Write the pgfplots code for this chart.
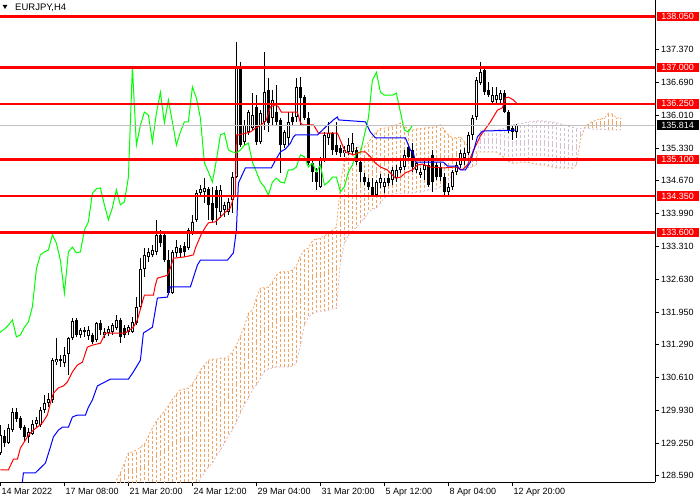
\documentclass[border=0pt]{standalone}
\usepackage{fontspec}
\setmainfont{Liberation Sans}
\usepackage{pgfplots}
\pgfplotsset{compat=1.18}
\usepackage{pgfplotstable}
\definecolor{sandy}{RGB}{244,164,96}
\definecolor{thist}{RGB}{216,191,216}
\definecolor{silv}{RGB}{192,192,192}
\definecolor{lime}{RGB}{0,255,0}
\definecolor{mtblue}{RGB}{0,0,255}
\definecolor{mtred}{RGB}{255,0,0}

\pgfplotstableread{
i o h l c
0 129.06 129.63 129.02 129.43
1 129.41 129.53 129.18 129.26
2 129.26 129.66 129.24 129.57
3 129.53 129.98 129.49 129.90
4 129.90 129.98 129.70 129.76
5 129.78 129.82 129.53 129.57
6 129.59 129.63 129.28 129.39
7 129.39 129.57 129.26 129.49
8 129.45 129.74 129.43 129.66
9 129.66 129.80 129.59 129.74
10 129.63 130.00 129.59 129.94
11 129.94 130.25 129.88 130.09
12 130.09 130.29 130.00 130.17
13 130.15 131.02 130.09 130.97
14 130.93 131.43 130.87 130.99
15 130.99 131.08 130.83 130.95
16 130.91 131.24 130.83 131.08
17 131.10 131.45 130.66 131.43
18 131.43 131.84 131.39 131.78
19 131.80 131.84 131.45 131.49
20 131.49 131.63 131.43 131.59
21 131.59 131.65 131.45 131.55
22 131.47 131.67 131.39 131.59
23 131.49 131.53 131.31 131.35
24 131.39 131.76 131.35 131.74
25 131.74 131.80 131.49 131.59
26 131.49 131.63 131.43 131.55
27 131.53 131.67 131.47 131.61
28 131.55 131.74 131.49 131.69
29 131.63 131.90 131.59 131.80
30 131.80 131.84 131.32 131.45
31 131.63 131.69 131.43 131.49
32 131.55 131.69 131.49 131.65
33 131.55 131.86 131.53 131.76
34 131.74 132.27 131.69 132.07
35 132.07 133.07 132.05 132.85
36 132.85 133.28 132.68 133.14
37 133.10 133.28 132.99 133.20
38 133.14 133.34 133.10 133.24
39 133.20 133.86 133.14 133.55
40 133.55 133.65 133.30 133.38
41 133.55 133.61 132.99 133.03
42 133.03 133.24 132.32 132.35
43 132.35 133.24 132.33 133.20
44 133.18 133.45 133.10 133.30
45 133.28 133.34 133.10 133.18
46 133.32 133.40 133.10 133.20
47 133.28 133.69 133.24 133.65
48 133.61 133.96 133.55 133.82
49 133.86 134.48 133.82 134.41
50 134.41 134.58 134.37 134.50
51 134.44 134.72 134.21 134.52
52 134.50 134.54 133.86 134.17
53 134.21 134.54 133.82 133.86
54 134.48 134.56 133.75 134.11
55 134.02 134.58 133.90 134.48
56 134.06 134.23 133.92 134.17
57 134.02 134.31 133.96 134.23
58 134.27 134.85 134.00 134.74
59 134.74 137.52 134.72 137.01
60 137.01 137.11 135.36 135.40
61 135.46 135.92 135.40 135.81
62 135.67 136.12 135.61 136.08
63 135.75 136.47 135.69 136.02
64 136.19 136.43 135.40 135.46
65 135.47 136.12 135.42 136.06
66 135.88 137.32 135.71 136.49
67 136.54 136.78 135.67 135.86
68 135.96 136.54 135.81 136.33
69 136.08 136.64 135.81 135.88
70 135.92 135.96 134.83 135.40
71 135.40 135.71 135.34 135.67
72 135.55 136.08 135.40 135.88
73 135.98 136.08 135.81 135.88
74 135.98 136.78 135.88 136.60
75 136.60 136.80 135.81 136.37
76 136.39 136.43 135.92 135.96
77 135.96 136.08 134.99 135.03
78 135.03 135.09 134.64 134.85
79 134.85 134.93 134.48 134.64
80 134.54 135.16 134.52 135.09
81 135.09 135.67 135.05 135.61
82 135.55 135.88 135.40 135.65
83 135.65 135.67 135.20 135.30
84 135.40 135.88 135.20 135.26
85 135.34 135.40 135.16 135.24
86 135.24 135.38 135.16 135.30
87 135.26 135.55 135.20 135.40
88 135.26 135.65 135.20 135.44
89 135.30 135.36 134.99 135.05
90 135.05 135.09 134.64 134.85
91 134.74 134.83 134.58 134.64
92 134.64 134.72 134.48 134.54
93 134.54 134.72 134.33 134.37
94 134.37 134.68 134.33 134.64
95 134.62 134.80 134.52 134.72
96 134.54 134.72 134.42 134.64
97 134.72 134.80 134.56 134.62
98 134.68 134.95 134.58 134.89
99 134.72 134.99 134.64 134.89
100 134.89 135.09 134.83 134.95
101 134.95 135.30 134.89 135.20
102 135.36 135.40 135.09 135.16
103 135.30 135.44 134.85 134.95
104 134.89 135.05 134.83 135.03
105 134.79 134.93 134.72 134.85
106 134.89 135.14 134.68 134.99
107 134.99 135.09 134.54 134.58
108 135.20 135.30 134.44 134.64
109 134.99 135.05 134.68 134.74
110 134.95 135.03 134.66 134.74
111 134.74 134.83 134.37 134.44
112 134.44 134.62 134.33 134.54
113 134.54 134.89 134.48 134.85
114 134.85 135.05 134.79 134.99
115 134.99 135.30 134.93 135.24
116 135.14 135.34 134.99 135.24
117 135.24 135.67 135.20 135.61
118 135.61 136.02 135.51 135.96
119 135.98 136.80 135.92 136.74
120 136.68 137.11 136.64 136.90
121 136.95 136.99 136.43 136.49
122 136.54 136.70 136.39 136.43
123 136.29 136.60 136.27 136.43
124 136.33 136.60 136.27 136.43
125 136.33 136.54 136.27 136.47
126 136.47 136.54 136.06 136.08
127 136.08 136.12 135.65 135.71
128 135.75 135.81 135.51 135.67
129 135.67 135.83 135.55 135.81
}\candles

\pgfplotstableread{
i A B
29 128.50 128.30
30 128.65 128.30
31 128.85 128.30
32 129.06 128.30
33 129.08 128.30
34 129.12 128.30
35 129.18 128.30
36 129.24 128.30
37 129.41 128.30
38 129.57 128.30
39 129.72 128.30
40 129.82 128.30
41 129.92 128.30
42 130.03 128.30
43 130.17 128.30
44 130.27 128.30
45 130.36 128.30
46 130.38 128.30
47 130.40 128.30
48 130.48 128.30
49 130.62 128.30
50 130.77 128.54
51 130.87 128.65
52 130.97 128.77
53 130.99 128.85
54 130.99 129.00
55 131.01 129.12
56 131.01 129.26
57 131.04 129.41
58 131.14 129.53
59 131.28 129.70
60 131.47 129.88
61 131.67 130.05
62 131.94 130.19
63 132.00 130.36
64 132.25 130.46
65 132.46 130.60
66 132.46 130.73
67 132.48 130.79
68 132.58 130.81
69 132.72 130.83
70 132.79 130.83
71 132.79 130.83
72 132.79 130.83
73 132.83 130.85
74 132.91 130.91
75 133.12 131.28
76 133.24 131.70
77 133.28 131.86
78 133.43 131.92
79 133.47 131.96
80 133.49 131.98
81 133.53 131.98
82 133.57 132.00
83 133.65 132.02
84 133.71 132.04
85 134.58 132.99
86 135.09 133.38
87 135.20 133.55
88 135.30 133.63
89 135.36 133.71
90 135.34 133.80
91 135.36 133.90
92 135.46 134.02
93 135.57 134.08
94 135.67 134.11
95 135.75 134.21
96 135.75 134.31
97 135.77 134.37
98 135.79 134.39
99 135.82 134.41
100 135.86 134.41
101 135.79 134.41
102 135.73 134.41
103 135.71 134.41
104 135.73 134.43
105 135.75 134.43
106 135.75 134.46
107 135.77 134.48
108 135.77 134.48
109 135.79 134.50
110 135.82 134.54
111 135.71 134.58
112 135.61 134.68
113 135.55 134.79
114 135.55 134.89
115 135.57 134.93
116 135.47 134.93
117 135.38 134.93
118 135.30 134.95
119 135.26 134.99
120 135.26 135.71
121 135.26 135.71
122 135.26 135.71
123 135.26 135.71
124 135.26 135.71
125 135.20 135.73
126 135.14 135.75
127 135.07 135.79
128 135.03 135.82
129 135.03 135.84
130 135.05 135.84
131 135.05 135.86
132 135.05 135.88
133 135.03 135.88
134 135.01 135.90
135 134.99 135.90
136 134.99 135.90
137 134.97 135.88
138 134.95 135.88
139 134.93 135.86
140 134.93 135.84
141 134.93 135.82
142 134.93 135.79
143 134.93 135.77
144 134.99 135.75
145 135.51 135.75
146 135.75 135.75
147 135.84 135.75
148 135.88 135.73
149 135.92 135.73
150 135.94 135.73
151 135.96 135.73
152 136.06 135.71
153 136.04 135.71
154 135.96 135.71
155 135.96 135.71
}\cloud

\begin{document}
\begin{tikzpicture}
\begin{axis}[
  at={(0pt,18pt)}, anchor=south west,
  scale only axis, width=655pt, height=482pt,
  xmin=-0.1, xmax=163.65, ymin=128.461, ymax=138.39,
  axis x line*=bottom, axis y line*=right,
  axis line style={black, line width=0.8pt, -},
  tick align=outside, major tick length=4pt,
  tick style={black, line width=0.8pt},
  xtick={0,16,32,48,64,80,96,112,128},
  xticklabels={14 Mar 2022,17 Mar 08:00,21 Mar 20:00,24 Mar 12:00,29 Mar 04:00,31 Mar 20:00,5 Apr 12:00,8 Apr 04:00,12 Apr 20:00},
  ytick={128.59,129.25,129.93,130.61,131.29,131.95,132.63,133.31,133.99,134.67,135.33,136.01,136.69,137.37},
  yticklabels={128.590,129.250,129.930,130.610,131.290,131.950,132.630,133.310,133.990,134.670,135.330,136.010,136.690,137.370},
  tick label style={font=\fontsize{9}{10}\selectfont, inner sep=0pt},
  xticklabel style={anchor=base west, xshift=1pt, yshift=-9pt},
  yticklabel style={anchor=west, xshift=2pt},
  clip mode=individual,
  hidemark/.style={only marks, mark=*, mark size=0pt, mark options={draw=none, fill=none}},
]
% cloud hatching
\addplot[hidemark, restrict expr to domain={\thisrow{A}-\thisrow{B}}{0:100},
  error bars/.cd, y dir=both, y explicit, error mark=none,
  error bar style={sandy, line width=1pt, dash pattern=on 3pt off 2pt}]
  table[x=i, y expr={(\thisrow{A}+\thisrow{B})/2}, y error expr={abs(\thisrow{A}-\thisrow{B})/2}] {\cloud};
\addplot[hidemark, restrict expr to domain={\thisrow{B}-\thisrow{A}}{0.001:100},
  error bars/.cd, y dir=both, y explicit, error mark=none,
  error bar style={thist, line width=1pt, dash pattern=on 3pt off 2pt}]
  table[x=i, y expr={(\thisrow{A}+\thisrow{B})/2}, y error expr={abs(\thisrow{A}-\thisrow{B})/2}] {\cloud};
\addplot[sandy, line width=0.8pt, dash pattern=on 2pt off 2pt] table[x=i, y=A] {\cloud};
\addplot[thist, line width=0.8pt, dash pattern=on 2pt off 2pt] table[x=i, y=B] {\cloud};
% candles: wicks
\addplot[hidemark,
  error bars/.cd, y dir=both, y explicit, error mark=none,
  error bar style={black, line width=1pt}]
  table[x=i, y expr={(\thisrow{h}+\thisrow{l})/2}, y error expr={(\thisrow{h}-\thisrow{l})/2}] {\candles};
% bodies
\addplot[hidemark,
  error bars/.cd, y dir=both, y explicit, error mark=none,
  error bar style={black, line width=3pt}]
  table[x=i, y expr={(\thisrow{o}+\thisrow{c})/2}, y error expr={max(abs(\thisrow{c}-\thisrow{o})/2,0.011)}] {\candles};
\addplot[hidemark, restrict expr to domain={\thisrow{c}-\thisrow{o}}{0.0001:100},
  error bars/.cd, y dir=both, y explicit, error mark=none,
  error bar style={white, line width=1pt}]
  table[x=i, y expr={(\thisrow{o}+\thisrow{c})/2}, y error expr={max(abs(\thisrow{c}-\thisrow{o})/2-0.0206,0)}] {\candles};
% chikou span
\addplot[lime, line width=1pt] table[x expr={\thisrow{i}-26}, y=c] {\candles};
% tenkan
\addplot[mtred, line width=1pt] coordinates {
(0,128.71) (2,128.71) (3.25,128.93) (4.25,128.93) (5,129.16) (5.75,129.26) (6.75,129.39) (7.5,129.47)
(8.25,129.53) (9.5,129.61) (10.5,129.68) (11.75,129.84) (12.5,130.09) (13.25,130.29) (14.5,130.40)
(15.75,130.44) (16.75,130.52) (18,130.73) (19.25,130.87) (20.5,130.93) (21.75,131.24) (23,131.28)
(25,131.32) (26.25,131.53) (31.25,131.53) (33.25,131.65) (34.25,131.80) (35.5,132.17) (36,132.31)
(38.25,132.31) (38.75,132.52) (39.25,132.66) (41.75,132.72) (42.5,132.87) (43.25,133.07) (46.25,133.10)
(48.25,133.14) (48.75,133.28) (50.25,133.57) (51.25,133.71) (52,133.80) (53.75,133.82) (55,133.92)
(56.25,134.02) (57.5,134.11) (58.25,134.31) (58.75,134.37) (59,135.61) (59.5,135.61) (62.5,135.67)
(63.75,135.75) (65.25,135.82) (66.5,135.92) (67.5,136.19) (68.75,136.23) (69.5,136.19) (70.25,136.08)
(74.25,136.08) (75,135.86) (75.5,135.82) (78.25,135.82) (79.5,135.65) (84.25,135.65) (85.5,135.40)
(86.25,135.26) (88.25,135.20) (90,135.26) (91.25,135.26) (92.5,135.16) (93.75,135.03) (95,134.95)
(96.75,134.89) (98.75,134.72) (100,134.74) (101.25,134.83) (103,134.89) (104.25,134.99) (105.5,135.01)
(107.5,134.95) (110.75,134.93) (113.75,134.95) (115.5,134.89) (116.75,134.99) (118,135.24) (119.25,135.46)
(120,135.59) (122.5,135.88) (124.25,136.12) (125.5,136.17) (126.25,136.37) (127,136.39) (128.25,136.33)
(129,136.27)};
% kijun
\addplot[mtblue, line width=1pt] coordinates {
(5.5,128.46) (5.75,128.65) (8.75,128.65) (10,128.75) (11.25,128.85) (12.5,129.18) (13.25,129.39)
(14.5,129.53) (15.5,129.59) (17,129.59) (18,129.80) (19.25,129.84) (21.25,129.84) (22,130.00)
(23,130.15) (24.25,130.44) (27.5,130.58) (32,130.58) (33.25,130.73) (35,130.97) (35.75,131.53)
(38,131.65) (39.25,132.25) (41.75,132.27) (42.5,132.48) (47.5,132.48) (49.25,132.93) (50,133.03)
(56.75,133.03) (58.25,133.18) (59,133.65) (59.5,134.62) (61.25,134.93) (67.75,134.93) (68.75,135.09)
(70,135.26) (71.25,135.32) (72.5,135.44) (73.25,135.57) (73.75,135.61) (79.25,135.61) (81.25,135.77)
(83.25,135.92) (84.25,135.98) (84.5,135.92) (91.25,135.88) (92.5,135.67) (93.75,135.55) (101.25,135.55)
(102.5,135.30) (103.25,135.24) (103.75,135.05) (110.75,135.05) (111.75,134.97) (114.25,134.97)
(115,134.89) (116.25,134.89) (117.5,135.05) (119.25,135.57) (120.5,135.69) (129,135.71)};
% current price
\addplot[silv, line width=1pt] coordinates {(-0.1,135.814) (163.65,135.814)};
% levels
\addplot[mtred, line width=2.6pt] coordinates {(-0.1,138.05) (163.65,138.05)};
\addplot[mtred, line width=2.6pt] coordinates {(-0.1,137.00) (163.65,137.00)};
\addplot[mtred, line width=2.6pt] coordinates {(-0.1,136.25) (163.65,136.25)};
\addplot[mtred, line width=2.6pt] coordinates {(-0.1,135.10) (163.65,135.10)};
\addplot[mtred, line width=2.6pt] coordinates {(-0.1,134.35) (163.65,134.35)};
\addplot[mtred, line width=2.6pt] coordinates {(-0.1,133.60) (163.65,133.60)};
% right-hand price boxes
\tikzset{pbox/.style={anchor=west, text=white, inner sep=0pt, minimum width=41.6pt, minimum height=9.5pt, font=\fontsize{9}{10}\selectfont}}
\node[pbox, fill=mtred] at ([xshift=1.7pt]axis cs:163.65,138.05) {138.050};
\node[pbox, fill=mtred] at ([xshift=1.7pt]axis cs:163.65,137.00) {137.000};
\node[pbox, fill=mtred] at ([xshift=1.7pt]axis cs:163.65,136.25) {136.250};
\node[pbox, fill=black] at ([xshift=1.7pt]axis cs:163.65,135.814) {135.814};
\node[pbox, fill=mtred] at ([xshift=1.7pt]axis cs:163.65,135.10) {135.100};
\node[pbox, fill=mtred] at ([xshift=1.7pt]axis cs:163.65,134.35) {134.350};
\node[pbox, fill=mtred] at ([xshift=1.7pt]axis cs:163.65,133.60) {133.600};
\end{axis}
\fill (2.7pt,495pt) -- (7.3pt,495pt) -- (5pt,491pt) -- cycle;
\node[anchor=base west, inner sep=0pt, font=\fontsize{9.5}{10}\selectfont] at (15pt,489pt) {EURJPY,H4};
\pgfresetboundingbox
\useasboundingbox (0,0) rectangle (700pt,500pt);
\end{tikzpicture}
\end{document}
